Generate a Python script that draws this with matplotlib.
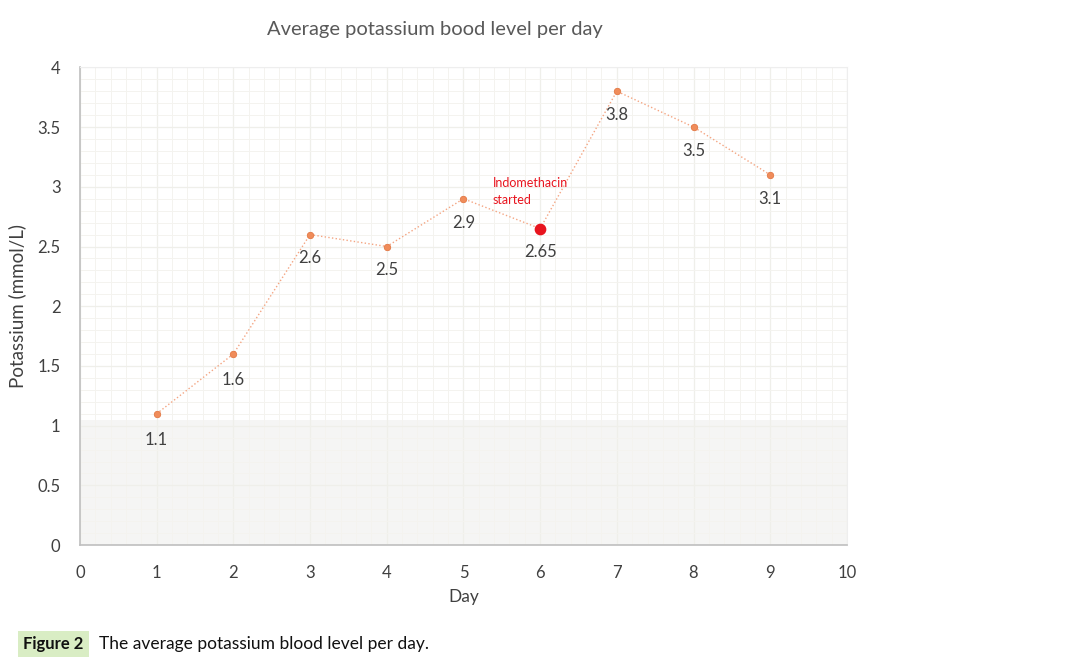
import matplotlib.pyplot as plt
import numpy as np

plt.rcParams['font.family'] = ['Lato', 'DejaVu Sans']

# data
days = [1, 2, 3, 4, 5, 6, 7, 8, 9]
potassium = [1.1, 1.6, 2.6, 2.5, 2.9, 2.65, 3.8, 3.5, 3.1]
labels = ['1.1', '1.6', '2.6', '2.5', '2.9', '2.65', '3.8', '3.5', '3.1']
indo_day = 6

fig = plt.figure(figsize=(10.76, 6.6), dpi=100)
ax = fig.add_axes([0.0743, 0.174, 0.7128, 0.724])

ax.set_xlim(0, 10)
ax.set_ylim(0, 4)

# faint grid like the original export
ax.set_xticks(np.arange(0, 10.01, 0.2), minor=True)
ax.set_yticks(np.arange(0, 4.01, 0.1), minor=True)
ax.grid(which='minor', color='#f4f3ef', lw=0.7)
ax.grid(which='major', color='#efefea', lw=0.9)
ax.axhspan(0, 1.05, color='#f5f5f4', zorder=0.5, lw=0)
ax.set_axisbelow(True)

ax.plot(days, potassium, ls=':', color='#f4a582', lw=1.0, zorder=2)
others = [i for i, d in enumerate(days) if d != indo_day]
ax.scatter([days[i] for i in others], [potassium[i] for i in others],
           s=22, color='#f08c5a', edgecolor='#e0703a', lw=0.5, zorder=3)
k = days.index(indo_day)
ax.scatter([days[k]], [potassium[k]], s=55, color='#e8141e', zorder=4)

# value labels below each point
for d, v, t in zip(days, potassium, labels):
    dy = -0.22 if d in (1, 2) else -0.2
    ax.text(d, v + dy, t, ha='center', va='center', fontsize=12, color='#404040')

ax.text(5.38, 2.96, 'Indomethacin\nstarted', color='#e8141e', fontsize=9,
        ha='left', va='center', linespacing=1.5)

ax.set_xticks(range(0, 11))
ax.set_yticks([0, 0.5, 1, 1.5, 2, 2.5, 3, 3.5, 4])
ax.set_yticklabels(['0', '0.5', '1', '1.5', '2', '2.5', '3', '3.5', '4'])
ax.tick_params(which='both', length=0, labelsize=12, colors='#404040')
ax.tick_params(axis='x', pad=14)
ax.tick_params(axis='y', pad=14)

for s in ['top', 'right']:
    ax.spines[s].set_color('#eeeeee')
for s in ['left', 'bottom']:
    ax.spines[s].set_color('#bfbfbf')
    ax.spines[s].set_linewidth(1.2)

ax.set_xlabel('Day', fontsize=12.5, color='#404040', labelpad=6)
ax.set_ylabel('Potassium (mmol/L)', fontsize=13.5, color='#404040', labelpad=8)

fig.text(0.404, 0.955, 'Average potassium bood level per day', ha='center',
         va='center', fontsize=14.5, color='#595959')

# caption
fig.text(0.0215, 0.025, 'Figure 2', fontsize=12, fontweight='bold', color='#111111',
         va='center', ha='left',
         bbox=dict(boxstyle='square,pad=0.3', fc='#d9edc4', ec='none'))
fig.text(0.092, 0.025, 'The average potassium blood level per day.', fontsize=12.5,
         color='#111111', va='center', ha='left')

fig.savefig('out.png', dpi=100)
